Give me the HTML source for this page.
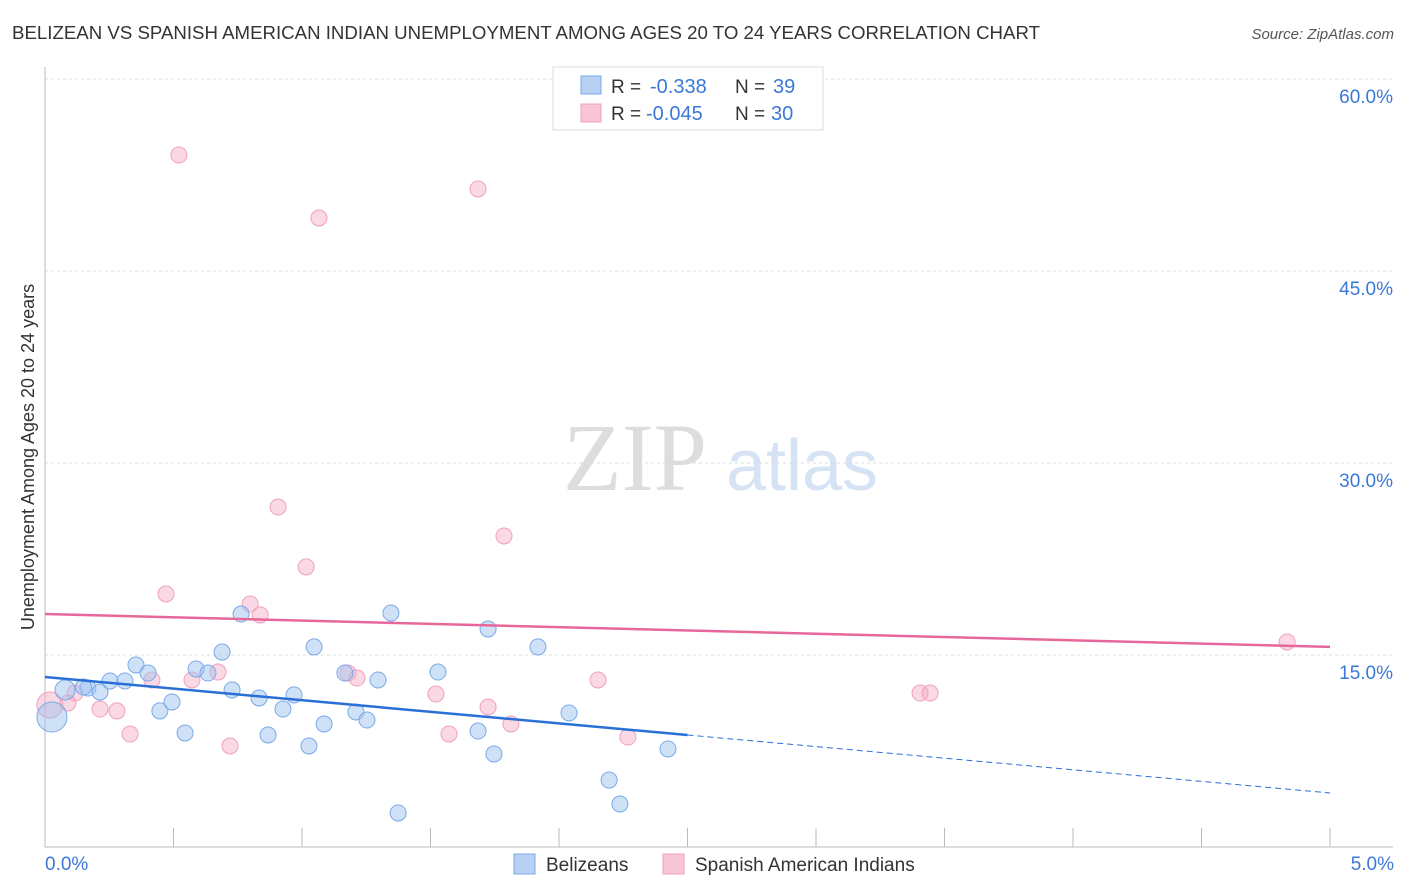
<!DOCTYPE html>
<html><head><meta charset="utf-8"><style>
body{margin:0;background:#fff;font-family:"Liberation Sans",sans-serif;}
svg{display:block}
</style></head><body>
<svg id="c" width="1406" height="892" xmlns="http://www.w3.org/2000/svg">
<text x="12" y="39" font-size="18" fill="#333" textLength="1028" lengthAdjust="spacingAndGlyphs">BELIZEAN VS SPANISH AMERICAN INDIAN UNEMPLOYMENT AMONG AGES 20 TO 24 YEARS CORRELATION CHART</text>
<text x="1394" y="39" font-size="15" fill="#555" font-style="italic" text-anchor="end">Source: ZipAtlas.com</text>
<text x="635" y="490" font-size="96" fill="#ddd" font-family="Liberation Serif,serif" text-anchor="middle">ZIP</text>
<text x="802" y="490" font-size="72" fill="#d5e3f5" text-anchor="middle">atlas</text>
<text transform="translate(34,457) rotate(-90)" font-size="18" fill="#333" text-anchor="middle">Unemployment Among Ages 20 to 24 years</text>
<g id="grid"></g><g id="marks"></g>
<g>
<rect x="553" y="67" width="270" height="63" fill="#fff" stroke="#ddd"/>
<rect x="581" y="76" width="20" height="18" fill="#b7d1f5" stroke="#7aaae8"/>
<text x="611" y="93" font-size="19" fill="#333">R =</text>
<text x="650" y="93" font-size="20" fill="#3b78d8">-0.338</text>
<text x="735" y="93" font-size="19" fill="#333">N =</text>
<text x="773" y="93" font-size="20" fill="#3b78d8">39</text>
<rect x="581" y="104" width="20" height="18" fill="#f8c5d6" stroke="#f0a0bb"/>
<text x="611" y="120" font-size="19" fill="#333">R =</text>
<text x="646" y="120" font-size="20" fill="#3b78d8">-0.045</text>
<text x="735" y="120" font-size="19" fill="#333">N =</text>
<text x="771" y="120" font-size="20" fill="#3b78d8">30</text>
</g>
<g>
<rect x="514" y="854" width="21" height="20" fill="#b7d1f5" stroke="#7aaae8"/>
<text x="546" y="871" font-size="19" fill="#333">Belizeans</text>
<rect x="663" y="854" width="21" height="20" fill="#f8c5d6" stroke="#f0a0bb"/>
<text x="695" y="871" font-size="19" fill="#333">Spanish American Indians</text>
</g>
</svg>
<script>
const yTicks=[15,30,45,60];
const xTickLabels=["0.0%","5.0%"];
const blueX=[0.027,0.078,0.167,0.214,0.253,0.311,0.354,0.401,0.447,0.494,0.545,0.588,0.634,0.689,0.728,0.763,0.833,0.868,0.926,0.969,1.027,1.047,1.086,1.167,1.210,1.253,1.296,1.346,1.374,1.529,1.685,1.724,1.747,1.918,2.039,2.195,2.237,2.424,0.15];
const blueY=[10.16,12.27,12.42,12.11,12.97,12.97,14.22,13.59,10.63,11.33,8.91,13.91,13.59,15.23,12.27,18.20,11.64,8.75,10.78,11.88,7.89,15.63,9.61,13.59,10.55,9.92,13.05,18.28,2.66,13.67,9.06,17.03,7.27,15.63,10.47,5.23,3.36,7.66,12.5];
const blueR=[15,10,8,8,8,8,8,8,8,8,8,8,8,8,8,8,8,8,8,8,8,8,8,8,8,8,8,8,8,8,8,8,8,8,8,8,8,8,8];
const pinkX=[0.019,0.089,0.117,0.214,0.280,0.331,0.416,0.471,0.521,0.572,0.673,0.720,0.798,0.837,0.907,1.016,1.066,1.179,1.214,1.521,1.572,1.685,1.724,1.786,1.813,2.152,2.268,3.405,3.444,4.833];
const pinkY=[11.09,11.25,12.03,10.78,10.63,8.83,13.05,19.77,54.06,13.05,13.67,7.89,18.98,18.13,26.56,21.88,49.14,13.59,13.20,11.95,8.83,51.41,10.94,24.30,9.61,13.05,8.59,12.03,12.03,16.02];
const pinkR=[13,8,8,8,8,8,8,8,8,8,8,8,8,8,8,8,8,8,8,8,8,8,8,8,8,8,8,8,8,8];
const blueTrend=[13.28,4.22];
const blueSolidEnd=2.5;
const pinkTrend=[18.2,15.63];
const NS="http://www.w3.org/2000/svg";
const X=v=>45+v*257, Y=v=>847-v*12.8;
function mk(t,a,p){const e=document.createElementNS(NS,t);for(const k in a)e.setAttribute(k,a[k]);p.appendChild(e);return e;}
const g=document.getElementById('grid'), m=document.getElementById('marks');
yTicks.forEach(t=>{
 const l=mk('line',{x1:45,x2:1393,y1:Y(t),y2:Y(t),stroke:'#ddd','stroke-dasharray':'3,3'},g);
 
 
 const tx=mk('text',{x:1393,y:Y(t)+24,'font-size':19,fill:'#3b78d8','text-anchor':'end'},g);tx.textContent=t.toFixed(1)+'%';
 
 
});
mk('line',{x1:45,x2:45,y1:67,y2:847,stroke:'#bbb'},g);
mk('line',{x1:45,x2:1393,y1:847,y2:847,stroke:'#bbb'},g);
for(let i=0;i<=10;i++){mk('line',{x1:X(i*0.5),x2:X(i*0.5),y1:828,y2:847,stroke:'#bbb'},g);}
xTickLabels.forEach((s,i)=>{const t=mk('text',{x:i?1394:45,y:870,'font-size':19,fill:'#3b78d8','text-anchor':i?'end':'start'},g);t.textContent=s;
 
 });
pinkX.forEach((x,i)=>{const c=mk('circle',{cx:X(x),cy:Y(pinkY[i]),r:pinkR[i],fill:'rgba(245,170,195,0.45)',stroke:'#f0a0bb'},m);
 
 });
blueX.forEach((x,i)=>{const c=mk('circle',{cx:X(x),cy:Y(blueY[i]),r:blueR[i],fill:'rgba(160,195,240,0.5)',stroke:'#7aaae8'},m);
 
 });
const bAt=x=>blueTrend[0]+(blueTrend[1]-blueTrend[0])*x/5;
let l1=mk('line',{x1:X(0),y1:Y(bAt(0)),x2:X(blueSolidEnd),y2:Y(bAt(blueSolidEnd)),stroke:'#2a6fd6','stroke-width':2.5},m);


let l2=mk('line',{x1:X(blueSolidEnd),y1:Y(bAt(blueSolidEnd)),x2:X(5),y2:Y(bAt(5)),stroke:'#2a6fd6','stroke-width':1,'stroke-dasharray':'6,4'},m);


let l3=mk('line',{x1:X(0),y1:Y(pinkTrend[0]),x2:X(5),y2:Y(pinkTrend[1]),stroke:'#e8679a','stroke-width':2.5},m);


</script>
</body></html>
